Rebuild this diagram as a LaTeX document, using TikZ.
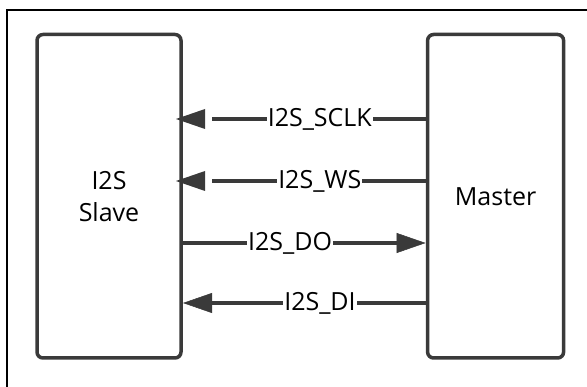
\documentclass[tikz,border=0pt]{standalone}
\usepackage{fontspec}
\setmainfont{Open Sans}
\usetikzlibrary{arrows.meta}
\definecolor{linec}{HTML}{3A3A3A}
\begin{document}
\begin{tikzpicture}[x=1pt,y=-1pt,
  blockbox/.style={draw=linec, line width=3.5pt, rounded corners=6pt, outer sep=0pt,
    font=\fontsize{25}{32}\selectfont, align=center, inner sep=0pt},
  sig/.style={draw=linec, line width=3.5pt},
  tipA/.style={-{Triangle[length=29pt,width=20pt,line width=0.5pt]}},
  headfill/.style={fill=linec},
  lbl/.style={fill=white, inner xsep=1pt, inner ysep=0pt, text=black,
    font=\fontsize{25}{27}\selectfont}
]
\useasboundingbox (0,0) rectangle (587,387);
\clip (0,0) rectangle (587,387);
\draw[black, line width=1.3pt] (7,400) -- (7,10) -- (600,10);

\node[blockbox, minimum width=144pt, minimum height=323.5pt] (slave) at (109,196.25) {I2S\\Slave};
\node[blockbox, minimum width=136pt, minimum height=323.5pt] (master) at (495.6,196.25) {Master};

% signal end points
\path (master.west |- 0,119) coordinate (sclkM);
\path (slave.east |- 0,119) ++(-5,0) coordinate (sclkS);
\path (slave.east |- 0,119) ++(31,0) coordinate (sclkG);
\path (master.west |- 0,181) coordinate (wsM);
\path (slave.east |- 0,181) ++(-5,0) coordinate (wsS);
\path (slave.east |- 0,181) ++(31,0) coordinate (wsG);
\path (slave.east |- 0,243) coordinate (doS);
\path (master.west |- 0,243) ++(-2,0) coordinate (doM);
\path (master.west |- 0,303) coordinate (diM);
\path (slave.east |- 0,303) ++(2,0) coordinate (diS);

\draw[sig] (sclkM) -- node[lbl,pos=0.5]{I2S\_SCLK} (sclkG);
\fill[headfill] (sclkS) -- ++(29,-10) -- ++(0,20) -- cycle;
\draw[sig] (wsM) -- node[lbl,pos=0.5]{I2S\_WS} (wsG);
\fill[headfill] (wsS) -- ++(29,-10) -- ++(0,20) -- cycle;
\draw[sig,tipA] (doS) -- node[lbl,pos=0.446]{I2S\_DO} (doM);
\draw[sig,tipA] (diM) -- node[lbl,pos=0.44]{I2S\_DI} (diS);
\end{tikzpicture}
\end{document}
